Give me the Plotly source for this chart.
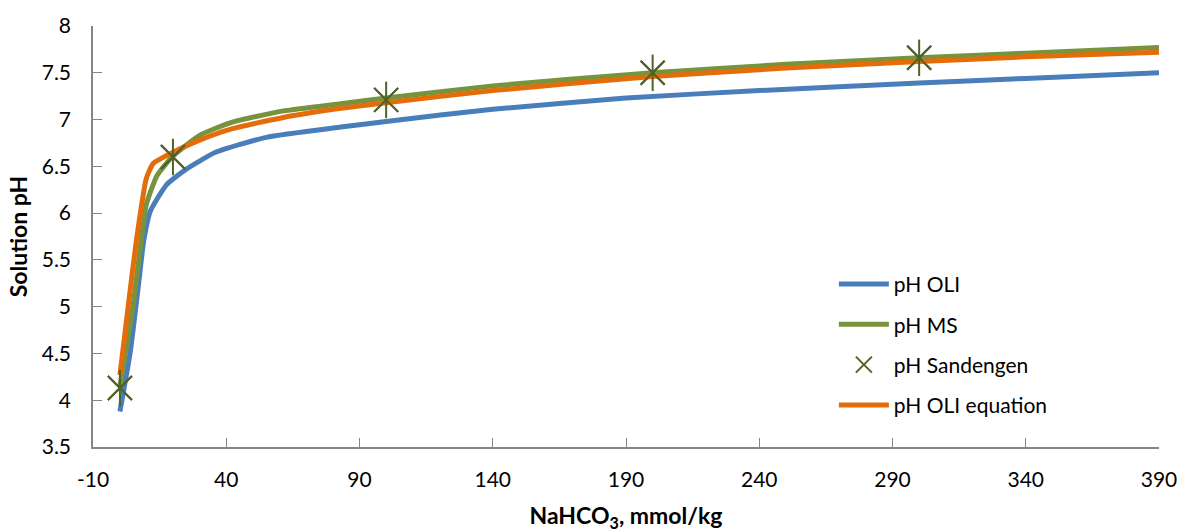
import plotly.graph_objects as go

# pH OLI (blue)
oli_x = [0.1, 4, 7.5, 9, 11.5, 17.5, 25, 36, 55, 83, 100, 140, 190, 240, 300, 340, 390]
oli_y = [3.88, 4.52, 5.34, 5.7, 6.02, 6.3, 6.47, 6.65, 6.81, 6.92, 6.98, 7.11, 7.23, 7.31, 7.39, 7.44, 7.50]

# pH MS (green)
ms_x = [0.1, 5, 7.6, 10, 14, 20, 30, 42, 61, 83, 100, 140, 200, 250, 300, 340, 390]
ms_y = [4.15, 5.0, 5.6, 6.09, 6.4, 6.61, 6.83, 6.97, 7.09, 7.17, 7.23, 7.36, 7.50, 7.59, 7.66, 7.71, 7.77]

# pH Sandengen (markers)
sand_x = [0.1, 20, 100, 200, 300]
sand_y = [4.13, 6.6, 7.21, 7.50, 7.66]

# pH OLI equation (orange)
eq_x = [0.1, 3.2, 6.2, 10, 12.6, 20, 30, 42, 61, 83, 100, 140, 200, 250, 300, 340, 390]
eq_y = [4.27, 5.0, 5.69, 6.37, 6.53, 6.65, 6.78, 6.9, 7.02, 7.12, 7.18, 7.31, 7.46, 7.55, 7.62, 7.67, 7.72]

x_ticks = [-10, 40, 90, 140, 190, 240, 290, 340, 390]
x_tick_text = ["-10", "40", "90", "140", "190", "240", "290", "340", "390"]

BLUE = "#4A7EBB"
GREEN = "#77933C"
ORANGE = "#E46C0A"
MARK = "#4F6228"
FONT = "Lato, Carlito, Calibri, sans-serif"

fig = go.Figure()
fig.add_trace(go.Scatter(x=oli_x, y=oli_y, mode="lines", name="pH OLI", legendgroup="a",
                         line=dict(color=BLUE, width=5, shape="spline", smoothing=0.5)))
fig.add_trace(go.Scatter(x=ms_x, y=ms_y, mode="lines", name="pH MS", legendgroup="b",
                         line=dict(color=GREEN, width=5, shape="spline", smoothing=0.5)))
fig.add_trace(go.Scatter(x=sand_x, y=sand_y, mode="markers", name="pH Sandengen", legendgroup="c",
                         marker=dict(symbol="x-thin-open", size=24, color=MARK,
                                     line=dict(color=MARK, width=2))))
fig.add_trace(go.Scatter(x=eq_x, y=eq_y, mode="lines", name="pH OLI equation", legendgroup="d",
                         line=dict(color=ORANGE, width=5, shape="spline", smoothing=0.5)))
fig.add_trace(go.Scatter(x=sand_x, y=sand_y, mode="markers", showlegend=False, legendgroup="c",
                         marker=dict(symbol="line-ns-open", size=26, color=MARK,
                                     line=dict(color=MARK, width=2))))
fig.add_trace(go.Scatter(x=sand_x, y=sand_y, mode="markers", showlegend=False, legendgroup="c",
                         marker=dict(symbol="x-thin-open", size=24, color=MARK,
                                     line=dict(color=MARK, width=2))))

fig.update_layout(
    width=1192, height=532,
    margin=dict(l=93, r=33, t=18, b=85),
    paper_bgcolor="white", plot_bgcolor="white",
    font=dict(family=FONT, size=21, color="#000000"),
    legend=dict(x=0.695, y=0.435, xanchor="left", yanchor="top",
                bgcolor="rgba(0,0,0,0)", font=dict(size=21),
                tracegroupgap=10, itemwidth=50, traceorder="grouped"),
    xaxis=dict(range=[-10, 390], tickvals=x_ticks, ticktext=x_tick_text,
               showgrid=False, zeroline=False, automargin=False,
               showline=True, linecolor="#868686", linewidth=1.5,
               ticks="inside", ticklen=9, tickcolor="#868686",
               ticklabelstandoff=13,
               title=dict(text="<b>NaHCO<sub>3</sub>, mmol/kg</b>", font=dict(size=23), standoff=20)),
    yaxis=dict(range=[3.5, 8], dtick=0.5, showgrid=False, zeroline=False,
               showline=True, linecolor="#868686", linewidth=1.5,
               ticks="inside", ticklen=9, tickcolor="#868686",
               ticklabelstandoff=16,
               title=dict(text="<b>Solution pH</b>", font=dict(size=23), standoff=8)),
)

fig.write_html("out.html")
